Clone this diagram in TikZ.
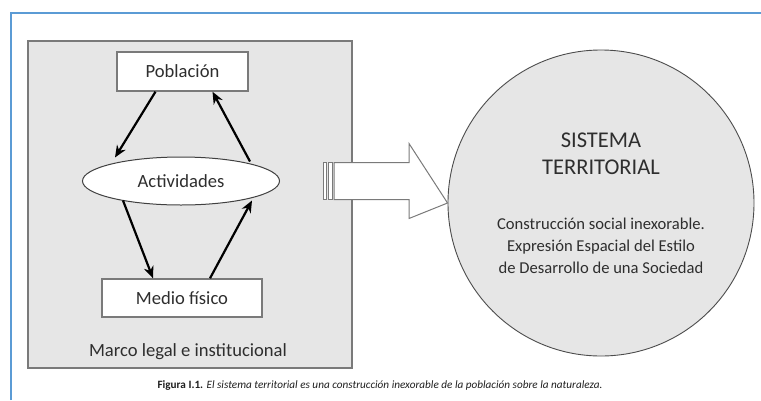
\documentclass[tikz,border=0pt]{standalone}
\usepackage{fontspec}
\setmainfont{Carlito}
\usetikzlibrary{shapes.geometric,arrows.meta}
\definecolor{txt}{HTML}{2E2E2E}
\definecolor{boxgray}{HTML}{E6E6E6}
\definecolor{edge}{HTML}{7A7A7A}
\definecolor{frameblue}{HTML}{5B9BD5}
\tikzset{
  lbl/.style={font=\fontsize{18.6}{22}\selectfont, text=txt},
  whitebox/.style={draw=edge, line width=1.4pt, fill=white, inner sep=0pt, lbl},
  flow/.style={line width=2.2pt, -{Stealth[length=12pt,width=10pt]}},
  circtxt/.style={font=\fontsize{16.6}{20}\selectfont, text=txt, anchor=base},
  titletxt/.style={font=\fontsize{22.5}{26}\selectfont, text=txt, anchor=base},
}
\begin{document}
\begin{tikzpicture}[x=1pt,y=-1pt]
\useasboundingbox (0,0) rectangle (761,400);
% blue frame
\draw[frameblue, line width=2pt] (11,400) -- (11,13) -- (761,13);
% gray box
\node[draw=edge, line width=1.4pt, fill=boxgray, minimum width=324pt, minimum height=327pt, inner sep=0pt] (marco) at (190,204.5) {};
\node[lbl] (marcot) at (188,352) {Marco legal e institucional};
% nodes
\node[whitebox, minimum width=131pt, minimum height=39pt] (pob) at (182.5,71.5) {Población};
\node[whitebox, ellipse, line width=1pt, draw=black!75, minimum width=197pt, minimum height=48pt] (act) at (181,181) {Actividades};
\node[whitebox, minimum width=160pt, minimum height=38pt] (med) at (182,298) {Medio físico};
% arrows
\draw[flow] ([xshift=-27pt]pob.south) -- ([xshift=-66pt,yshift=-1pt]act.north);
\draw[flow] ([xshift=69pt,yshift=-5pt]act.north) -- ([xshift=30pt]pob.south);
\draw[flow] ([xshift=-58pt,yshift=5pt]act.south) -- ([xshift=-29pt]med.north);
\draw[flow] ([xshift=28pt]med.north) -- ([xshift=71pt,yshift=5pt]act.south);
% circle
\node[circle, draw=black!70, line width=0.9pt, fill=boxgray, minimum size=306pt, inner sep=0pt] (sis) at (601,203) {};
\node[titletxt] (t1) at (601,147) {SISTEMA};
\node[titletxt] (t2) at (601,174) {TERRITORIAL};
\node[circtxt] (b1) at (601,229) {Construcción social inexorable.};
\node[circtxt] (b2) at (601,251) {Expresión Espacial del Estilo};
\node[circtxt] (b3) at (601,273) {de Desarrollo de una Sociedad};
% big striped arrow
\coordinate (atip) at (sis.west);
\draw[edge, line width=1pt, fill=white] (323,162.5) rectangle (326.5,199.5);
\draw[edge, line width=1pt, fill=white] (328.5,162.5) rectangle (332,199.5);
\draw[edge, line width=1pt, fill=white, line join=miter]
  (334,162.5) -- (409,162.5) -- (409,143.5) -- (atip) -- (409,218.5) -- (409,199.5) -- (334,199.5) -- cycle;
% caption
\node[font=\fontsize{11.2}{13}\selectfont, text=black!88, anchor=base] (cap) at (380,388)
  {\textbf{Figura I.1.} \textit{El sistema territorial es una construcción inexorable de la población sobre la naturaleza.}};
\end{tikzpicture}
\end{document}
